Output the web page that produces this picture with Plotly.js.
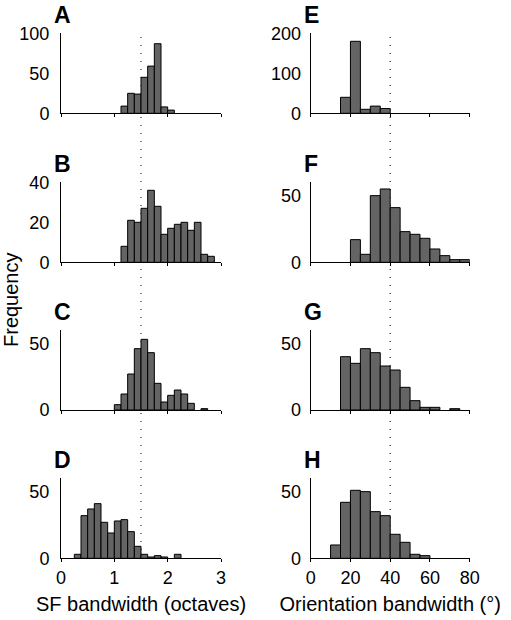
<!DOCTYPE html>
<html>
<head>
<meta charset="utf-8">
<script src="https://cdn.plot.ly/plotly-3.0.1.min.js"></script>
<style>html,body{margin:0;padding:0;background:#fff;}#chart{width:511px;height:620px;}</style>
</head>
<body>
<div id="chart"></div>
<script>
// Spatial-frequency bandwidth histograms (bin lower edges, octaves; bin width 0.125)
const sfBinsA = [1.125, 1.25, 1.375, 1.5, 1.625, 1.75, 1.875, 2.0];
const sfCountsA = [9, 25, 24, 45, 59, 87, 8, 4];
const sfBinsB = [1.125, 1.25, 1.375, 1.5, 1.625, 1.75, 1.875, 2.0, 2.125, 2.25, 2.375, 2.5, 2.625, 2.75];
const sfCountsB = [8, 21, 20, 27, 36, 28, 14, 17, 19, 20, 16, 20, 4, 3];
const sfBinsC = [1.0, 1.125, 1.25, 1.375, 1.5, 1.625, 1.75, 1.875, 2.0, 2.125, 2.25, 2.375, 2.625];
const sfCountsC = [4, 12, 27, 46, 53, 43, 20, 6, 11, 15, 12, 5, 1];
const sfBinsD = [0.25, 0.375, 0.5, 0.625, 0.75, 0.875, 1.0, 1.125, 1.25, 1.375, 1.5, 1.625, 1.75, 1.875, 2.125];
const sfCountsD = [3, 32, 37, 41, 27, 19, 28, 29, 20, 9, 3, 1, 2, 1, 3];
const sfBinWidth = 0.125;

// Orientation bandwidth histograms (bin lower edges, degrees; bin width 5)
const orBinsE = [15, 20, 25, 30, 35];
const orCountsE = [40, 180, 10, 18, 12];
const orBinsF = [20, 25, 30, 35, 40, 45, 50, 55, 60, 65, 70, 75];
const orCountsF = [17, 6, 50, 55, 41, 23, 21, 18, 10, 5, 2, 2];
const orBinsG = [15, 20, 25, 30, 35, 40, 45, 50, 55, 60, 70];
const orCountsG = [40, 35, 46, 43, 33, 30, 17, 7, 2, 2, 1];
const orBinsH = [10, 15, 20, 25, 30, 35, 40, 45, 50, 55];
const orCountsH = [10, 42, 51, 50, 35, 32, 18, 12, 3, 2];
const orBinWidth = 5;

const panelLetters = ['A', 'B', 'C', 'D', 'E', 'F', 'G', 'H'];
const sfTicks = [0, 1, 2, 3];
const orTicks = [0, 20, 40, 60, 80];
const yTicks = [[0, 50, 100], [0, 20, 40], [0, 50], [0, 50], [0, 100, 200], [0, 50], [0, 50], [0, 50]];
const yMax = [100, 40, 60, 60, 200, 60, 60, 60];
const sfReference = 1.5;
const orReference = 40;

const FONT = 'Arial, "Liberation Sans", sans-serif';
const TICK = 18, TITLE = 20, LETTER = 23;
const W = 511, H = 620;
const px = v => v / W;
const py = v => 1 - v / H;

const panels = [
  {bins: sfBinsA, counts: sfCountsA, w: sfBinWidth},
  {bins: sfBinsB, counts: sfCountsB, w: sfBinWidth},
  {bins: sfBinsC, counts: sfCountsC, w: sfBinWidth},
  {bins: sfBinsD, counts: sfCountsD, w: sfBinWidth},
  {bins: orBinsE, counts: orCountsE, w: orBinWidth},
  {bins: orBinsF, counts: orCountsF, w: orBinWidth},
  {bins: orBinsG, counts: orCountsG, w: orBinWidth},
  {bins: orBinsH, counts: orCountsH, w: orBinWidth}
];

const bottoms = [113.3, 262.3, 410, 558.3];
const plotH = 80;
const colX = [[61, 221], [310.7, 469.7]];

const traces = [];
const layout = {
  width: W, height: H,
  margin: {l: 0, r: 0, t: 0, b: 0},
  paper_bgcolor: '#fff',
  plot_bgcolor: 'rgba(0,0,0,0)',
  showlegend: false,
  font: {family: FONT, size: TICK, color: '#000'},
  bargap: 0,
  annotations: [],
  shapes: []
};

panels.forEach((p, i) => {
  const n = i + 1;
  const col = i < 4 ? 0 : 1;
  const row = i % 4;
  const xa = 'x' + (n === 1 ? '' : n);
  const ya = 'y' + (n === 1 ? '' : n);
  traces.push({
    type: 'bar', x: p.bins, y: p.counts, width: p.w, offset: 0,
    xaxis: xa, yaxis: ya,
    marker: {color: '#646464', line: {color: '#000', width: 1}},
    hoverinfo: 'x+y'
  });
  const bottom = bottoms[row];
  layout['xaxis' + (n === 1 ? '' : n)] = {
    domain: [px(colX[col][0]), px(colX[col][1])],
    anchor: ya,
    range: col === 0 ? [0, 3] : [0, 80],
    tickvals: col === 0 ? sfTicks : orTicks,
    showticklabels: row === 3,
    ticks: 'outside', ticklen: 3, tickwidth: 1, tickcolor: '#000',
    showgrid: false, zeroline: false,
    showline: true, linecolor: '#000', linewidth: 1,
    tickfont: {family: FONT, size: TICK, color: '#000'},
    fixedrange: true,
    automargin: false
  };
  layout['yaxis' + (n === 1 ? '' : n)] = {
    domain: [py(bottom), py(bottom - plotH)],
    anchor: xa,
    range: [0, yMax[i]],
    tickvals: yTicks[i],
    ticks: '', ticklabelstandoff: col === 0 ? 7 : 5,
    showgrid: false, zeroline: false,
    showline: true, linecolor: '#000', linewidth: 1,
    tickfont: {family: FONT, size: TICK, color: '#000'},
    fixedrange: true,
    automargin: false
  };
  layout.annotations.push({
    text: '<b>' + panelLetters[i] + '</b>',
    xref: 'paper', yref: 'paper',
    x: px(col === 0 ? 52 : 302), y: py(bottom - plotH - 18),
    xanchor: 'left', yanchor: 'middle',
    showarrow: false,
    font: {family: FONT, size: LETTER, color: '#000'}
  });
});

layout.xaxis4.title = {text: 'SF bandwidth (octaves)', font: {family: FONT, size: TITLE, color: '#000'}, standoff: 10};
layout.xaxis8.title = {text: 'Orientation bandwidth (°)', font: {family: FONT, size: TITLE, color: '#000'}, standoff: 10};

layout.annotations.push({
  text: 'Frequency', xref: 'paper', yref: 'paper',
  x: px(11), y: py(300), textangle: -90,
  xanchor: 'center', yanchor: 'middle', showarrow: false,
  font: {family: FONT, size: TITLE, color: '#000'}
});

const dotted = {color: '#000', width: 1, dash: '1px,7px'};
layout.shapes.push({type: 'line', xref: 'x', yref: 'paper', x0: sfReference, x1: sfReference, y0: py(558), y1: py(37), line: dotted, layer: 'below'});
layout.shapes.push({type: 'line', xref: 'x5', yref: 'paper', x0: orReference, x1: orReference, y0: py(558), y1: py(37), line: dotted, layer: 'below'});

Plotly.newPlot('chart', traces, layout, {displayModeBar: false, staticPlot: true});
</script>
</body>
</html>
